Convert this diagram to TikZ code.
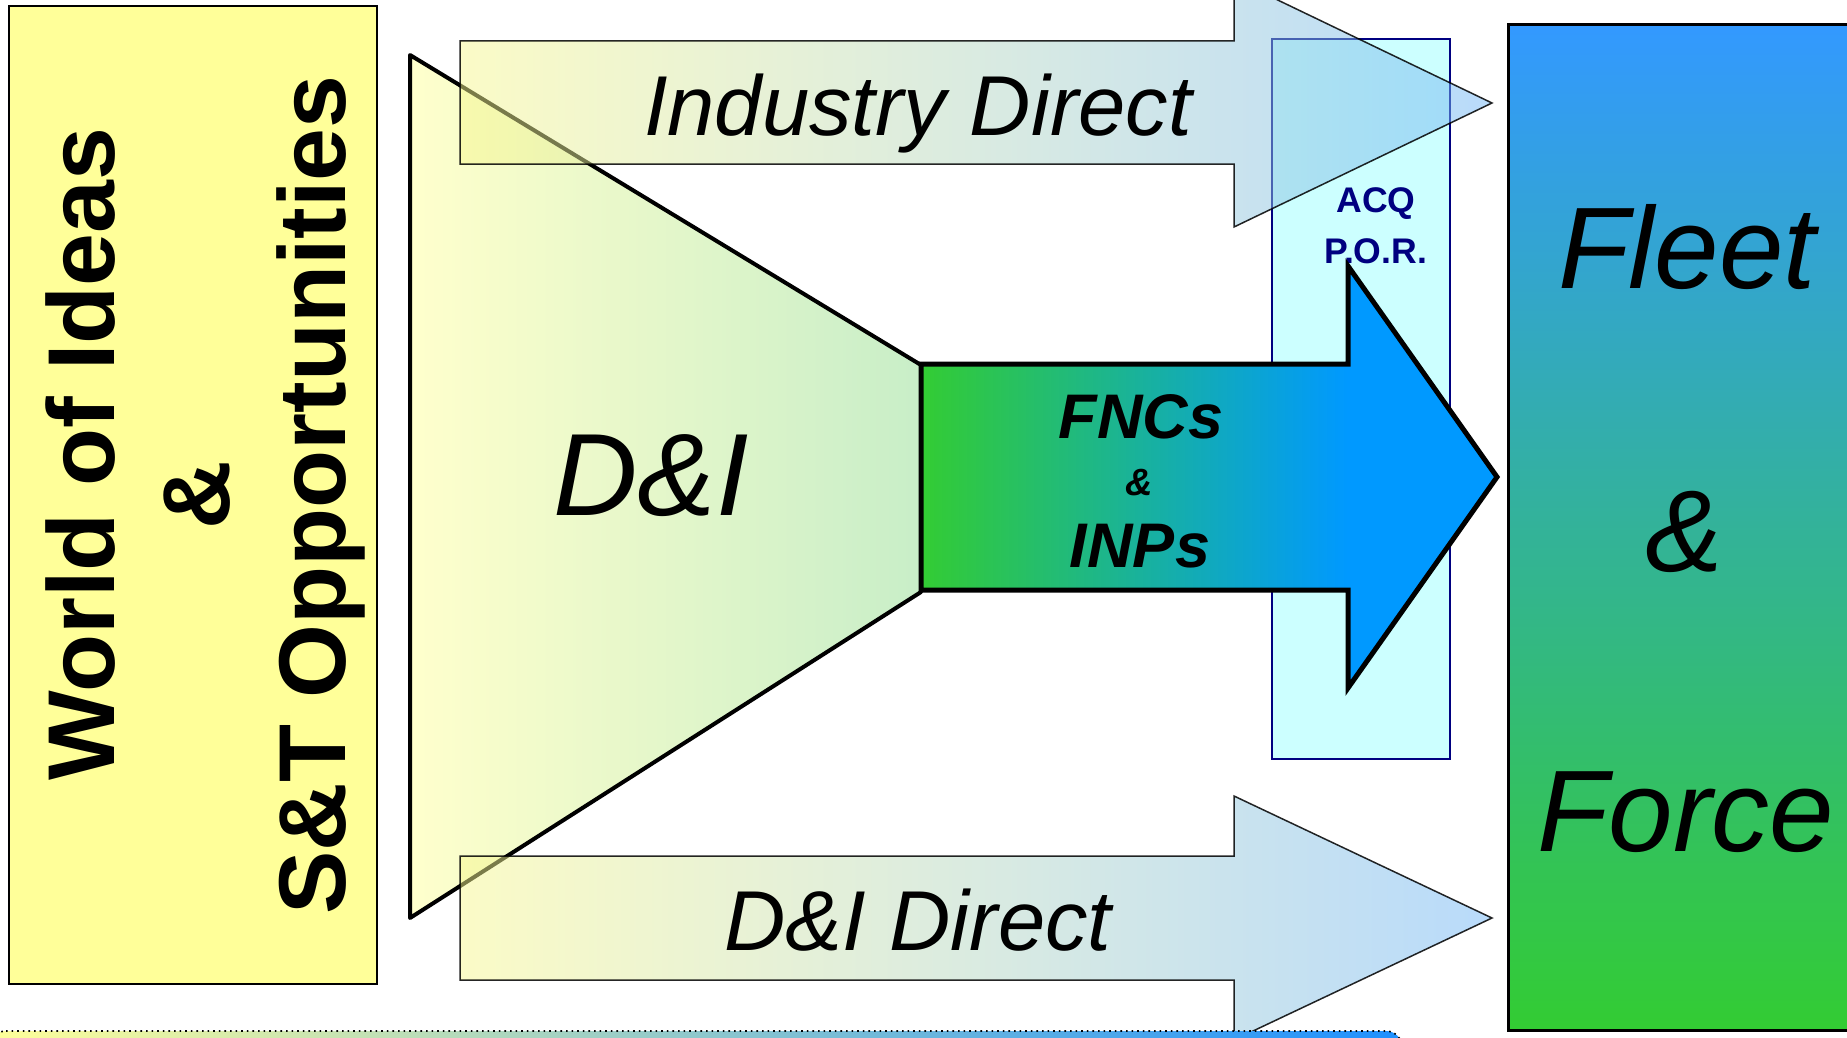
\documentclass[tikz,border=0pt]{standalone}
\usepackage{fontspec}
\setmainfont{Liberation Sans}
\definecolor{ideayellow}{HTML}{FFFF99}
\definecolor{funnelL}{HTML}{FFFFCC}
\definecolor{funnelR}{HTML}{C8EEC8}
\definecolor{directL}{HTML}{F8F890}
\definecolor{directR}{HTML}{74B8F8}
\definecolor{acqfill}{HTML}{CCFFFF}
\definecolor{acqnavy}{HTML}{000080}
\definecolor{fleetblue}{HTML}{3399FF}
\definecolor{fleetgreen}{HTML}{33CC33}
\definecolor{fncgreen}{HTML}{33CC33}
\definecolor{fncblue}{HTML}{0099FF}
\definecolor{stripblue}{HTML}{1E90FF}
\pgfdeclarehorizontalshading{fncshade}{100bp}{color(0bp)=(fncgreen); color(25bp)=(fncgreen); color(62bp)=(fncblue); color(100bp)=(fncblue)}
\begin{document}
\begin{tikzpicture}[x=0.5pt,y=-0.5pt,
  txt/.style={inner sep=0pt, anchor=base},
  directarrow/.style={left color=directL, right color=directR, fill opacity=0.5, draw=black, draw opacity=0.85, line width=0.75pt, line join=miter},
  bigital/.style={txt, font=\fontsize{58}{60}\selectfont\itshape},
  leftbold/.style={txt, rotate=90, font=\fontsize{47.5}{50}\selectfont\bfseries},
  fncfont/.style={txt, font=\fontsize{31.5}{34}\selectfont\bfseries\itshape},
  acqfont/.style={txt, text=acqnavy, font=\fontsize{17.8}{20}\selectfont\bfseries},
  directfont/.style={txt, font=\fontsize{42.5}{45}\selectfont\itshape}]
\useasboundingbox (0,0) rectangle (1847,1038);
\clip (0,0) rectangle (1847,1038);
\fill[white] (0,0) rectangle (1847,1038);

% left box
\draw[fill=ideayellow, line width=1.2pt] (9,6) rectangle (377,984);
\node[leftbold] (world) at (114,454) {World of Ideas};
\node[leftbold] (amp1) at (229,495) {\&};
\node[leftbold] (st) at (345,495) {S\&T Opportunities};

% Fleet & Force box
\draw[top color=fleetblue, bottom color=fleetgreen, line width=1.5pt] (1508,25) rectangle (1900,1030);
\node[bigital] (fleet) at (1687,288) {Fleet};
\node[bigital] (amp2) at (1684,571) {\&};
\node[bigital] (force) at (1686,851) {Force};

% ACQ box
\draw[fill=acqfill, draw=acqnavy, line width=1pt] (1272,39) rectangle (1450,759);
\node[acqfont] (acq) at (1376,213) {ACQ};
\node[acqfont] (por) at (1376,263) {P.O.R.};

% D&I funnel
\draw[left color=funnelL, right color=funnelR, line width=2pt, line join=round]
  (410,55) -- (921,365) -- (921,592) -- (410,918) -- cycle;
\node[txt, font=\fontsize{58.5}{60}\selectfont\itshape] (di) at (651,515) {D\&I};

% Industry Direct arrow
\path[directarrow] (460,41) -- (1234,41) -- (1234,-21) -- (1492,103) -- (1234,227) -- (1234,164) -- (460,164) -- cycle;
\node[directfont] (industry) at (918,135) {Industry Direct};

% D&I Direct arrow
\path[directarrow] (460,856) -- (1234,856) -- (1234,796) -- (1492,918) -- (1234,1040) -- (1234,980) -- (460,980) -- cycle;
\node[directfont] (didirect) at (918,950) {D\&I Direct};

% bottom strip
\draw[left color=ideayellow, right color=stripblue, dotted, line width=0.8pt, rounded corners=8]
  (-10,1031) -- (1402,1031) -- (1402,1080) -- (-10,1080) -- cycle;

% FNCs arrow
\draw[shading=fncshade, line width=2.5pt, line join=miter]
  (921,364) -- (1348,364) -- (1348,266) -- (1497,477) -- (1348,688) -- (1348,590) -- (921,590) -- cycle;
\node[fncfont] (fncs) at (1141,438) {FNCs};
\node[txt, font=\fontsize{19}{20}\selectfont\bfseries\itshape] (amp3) at (1139,495) {\&};
\node[fncfont] (inps) at (1140,567) {INPs};
\end{tikzpicture}
\end{document}
